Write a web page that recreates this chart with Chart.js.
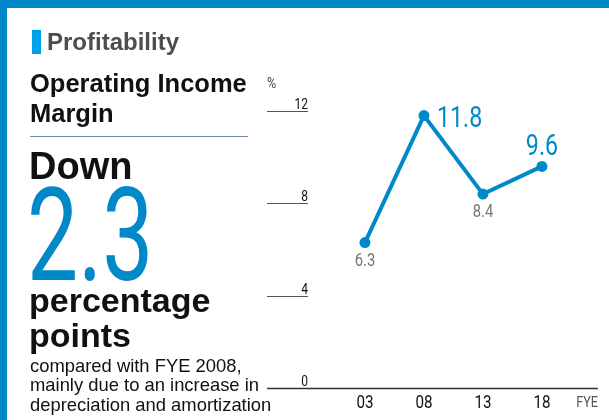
<!DOCTYPE html>
<html>
<head>
<meta charset="utf-8">
<script src="https://cdn.jsdelivr.net/npm/chart.js@4.4.1/dist/chart.umd.min.js"></script>
<style>
  html, body { margin: 0; padding: 0; background: #fff; }
  #wrap { position: relative; width: 609px; height: 420px; overflow: hidden; background: #fff; }
  #wrap canvas { position: absolute; left: 0; top: 0; }
  .t { position: absolute; white-space: nowrap; font-family: "Liberation Sans", Arial, sans-serif; color: #111; }
  .topbar { position: absolute; left: 0; top: 0; width: 609px; height: 8px; background: #0088c8; }
  .leftbar { position: absolute; left: 0; top: 0; width: 7px; height: 420px; background: #0088c8; }
</style>
</head>
<body>
<div id="wrap">
  <canvas id="chart" width="609" height="420"></canvas>
  <div class="topbar"></div>
  <div class="leftbar"></div>
  <div style="position:absolute;left:32px;top:30px;width:9px;height:24px;background:#00a0e9"></div>
  <div class="t" style="left:47px;top:30px;font-size:24px;line-height:23px;font-weight:bold;color:#4d4d4f">Profitability</div>
  <div class="t" style="left:30px;top:68px;font-size:25.5px;line-height:30px;font-weight:bold">Operating Income<br>Margin</div>
  <div style="position:absolute;left:30px;top:136px;width:218px;height:0;border-top:1.5px solid #6d8aa8"></div>
  <div class="t" style="left:29px;top:148px;font-size:38px;line-height:36px;font-weight:bold">Down</div>
  <div class="t" style="left:27px;top:170.6px;font-size:130px;line-height:130px;font-family:Roboto,sans-serif;font-weight:400;color:#0088c9;transform:scaleX(0.7);transform-origin:left top">2.3</div>
  <div class="t" style="left:29px;top:283px;font-size:34px;line-height:34.5px;font-weight:bold">percentage<br>points</div>
  <div class="t" style="left:30px;top:355.7px;font-size:18.4px;line-height:19.5px">compared with FYE 2008,<br>mainly due to an increase in<br>depreciation and amortization</div>
</div>
<script>
// operating income margin, %
const years = [2003, 2008, 2013, 2018];
const yearLabels = ['03', '08', '13', '18'];
const margins = [6.3, 11.8, 8.4, 9.6];
const yTicks = [0, 4, 8, 12];

const blue = '#0088c9';

function condText(ctx, text, x, y, size, color, align, squeeze) {
  ctx.save();
  ctx.font = size + 'px Roboto, sans-serif';
  ctx.fillStyle = color;
  ctx.textBaseline = 'alphabetic';
  ctx.translate(x, y);
  ctx.scale(squeeze, 1);
  let w = ctx.measureText(text).width;
  let dx = 0;
  if (align == 'right') dx = -w;
  if (align == 'center') dx = -w / 2;
  ctx.fillText(text, dx, 0);
  ctx.restore();
}

const axisPlugin = {
  id: 'axisPlugin',
  beforeDatasetsDraw(chart) {
    const ctx = chart.ctx;
    const xs = chart.scales.x;
    const ys = chart.scales.y;
    const left = chart.chartArea.left;
    const right = chart.chartArea.right;

    // short tick lines with labels on top
    yTicks.forEach(v => {
      const y = Math.round(ys.getPixelForValue(v)) + 0.5;
      ctx.save();
      ctx.strokeStyle = v == 0 ? '#333' : '#555';
      ctx.lineWidth = v == 0 ? 1.5 : 1.2;
      ctx.beginPath();
      ctx.moveTo(left, y);
      ctx.lineTo(v == 0 ? right : left + 41, y);
      ctx.stroke();
      ctx.restore();
      condText(ctx, String(v), left + 41, y - 3, 15, '#111', 'right', 0.8);
    });
    condText(ctx, '%', left, ys.getPixelForValue(12) - 23, 14, '#444', 'left', 0.9);

    // category labels under the axis
    years.forEach((yr, i) => {
      condText(ctx, yearLabels[i], xs.getPixelForValue(yr), ys.getPixelForValue(0) + 20, 19, '#111', 'center', 0.8);
    });
    condText(ctx, 'FYE', right, ys.getPixelForValue(0) + 19, 14, '#555', 'right', 0.9);
  },
  afterDatasetsDraw(chart) {
    const ctx = chart.ctx;
    const meta = chart.getDatasetMeta(0);
    meta.data.forEach((pt, i) => {
      const txt = margins[i].toFixed(1);
      if (i == 1) {
        condText(ctx, txt, pt.x + 13, pt.y + 11.5, 29, blue, 'left', 0.8);
      } else if (i == 3) {
        condText(ctx, txt, pt.x, pt.y - 11, 29, blue, 'center', 0.8);
      } else {
        condText(ctx, txt, pt.x, pt.y + 23, 18.5, '#777', 'center', 0.8);
      }
    });
  }
};

new Chart(document.getElementById('chart'), {
  type: 'line',
  data: {
    datasets: [{
      data: years.map((yr, i) => ({ x: yr, y: margins[i] })),
      borderColor: blue,
      borderWidth: 4,
      backgroundColor: blue,
      pointBackgroundColor: blue,
      pointBorderWidth: 0,
      pointRadius: 5.5,
      tension: 0,
      clip: false
    }]
  },
  options: {
    responsive: false,
    animation: false,
    layout: { padding: { left: 267, right: 11, top: 111, bottom: 32 } },
    scales: {
      x: { type: 'linear', min: 1994.7, max: 2022.75, display: false },
      y: { min: 0, max: 12, display: false }
    },
    plugins: { legend: { display: false }, tooltip: { enabled: false } }
  },
  plugins: [axisPlugin]
});
</script>
</body>
</html>
